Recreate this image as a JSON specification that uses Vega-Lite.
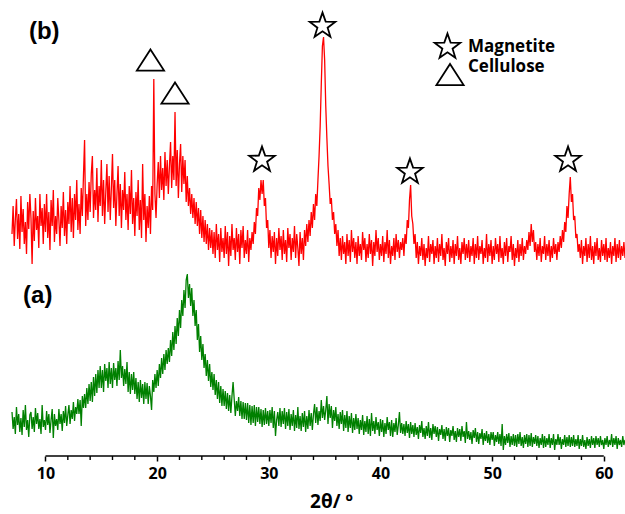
{
"$schema": "https://vega.github.io/schema/vega-lite/v6.json",
"width": 613, "height": 456,
"autosize": {"type": "none"},
"padding": {"left": 12, "top": 0, "right": 0, "bottom": 58},
"config": {"view": {"stroke": null}, "font": "Open Sans"},
"datasets": {
"xrd": [
{"x":7.0,"b":222,"a":44},{"x":7.1,"b":250,"a":27},{"x":7.2,"b":210,"a":39},{"x":7.3,"b":237,"a":22},{"x":7.4,"b":257,"a":49},{"x":7.5,"b":217,"a":31},{"x":7.6,"b":242,"a":42},{"x":7.7,"b":207,"a":24},{"x":7.8,"b":260,"a":38},{"x":7.9,"b":224,"a":21},
{"x":8.0,"b":247,"a":46},{"x":8.1,"b":212,"a":29},{"x":8.2,"b":234,"a":51},{"x":8.3,"b":202,"a":26},{"x":8.4,"b":254,"a":36},{"x":8.5,"b":227,"a":19},{"x":8.6,"b":262,"a":41},{"x":8.7,"b":238,"a":44},{"x":8.8,"b":192,"a":27},{"x":8.9,"b":245,"a":39},
{"x":9.0,"b":215,"a":24},{"x":9.1,"b":258,"a":48},{"x":9.2,"b":226,"a":32},{"x":9.3,"b":240,"a":43},{"x":9.4,"b":208,"a":27},{"x":9.5,"b":262,"a":37},{"x":9.6,"b":230,"a":22},{"x":9.7,"b":248,"a":51},{"x":9.8,"b":212,"a":29},{"x":9.9,"b":252,"a":36},
{"x":10.0,"b":224,"a":26},{"x":10.1,"b":262,"a":45},{"x":10.2,"b":218,"a":31},{"x":10.3,"b":244,"a":42},{"x":10.4,"b":206,"a":23},{"x":10.5,"b":256,"a":36},{"x":10.6,"b":230,"a":47},{"x":10.7,"b":266,"a":18},{"x":10.8,"b":214,"a":42},{"x":10.9,"b":240,"a":30},
{"x":11.0,"b":222,"a":37},{"x":11.1,"b":258,"a":26},{"x":11.2,"b":236,"a":47},{"x":11.3,"b":210,"a":32},{"x":11.4,"b":250,"a":42},{"x":11.5,"b":228,"a":25},{"x":11.6,"b":264,"a":45},{"x":11.7,"b":220,"a":33},{"x":11.8,"b":246,"a":50},{"x":11.9,"b":212,"a":30},
{"x":12.0,"b":254,"a":41},{"x":12.1,"b":232,"a":51},{"x":12.2,"b":270,"a":32},{"x":12.3,"b":224,"a":46},{"x":12.4,"b":258,"a":37},{"x":12.5,"b":218,"a":54},{"x":12.6,"b":262,"a":35},{"x":12.7,"b":236,"a":49},{"x":12.8,"b":276,"a":42},{"x":12.9,"b":226,"a":57},
{"x":13.0,"b":252,"a":42},{"x":13.1,"b":222,"a":56},{"x":13.2,"b":268,"a":30},{"x":13.3,"b":240,"a":60},{"x":13.4,"b":280,"a":48},{"x":13.5,"b":316,"a":62},{"x":13.6,"b":230,"a":48},{"x":13.7,"b":262,"a":68},{"x":13.8,"b":236,"a":52},{"x":13.9,"b":274,"a":72},
{"x":14.0,"b":244,"a":55},{"x":14.1,"b":282,"a":74},{"x":14.2,"b":300,"a":54},{"x":14.3,"b":238,"a":79},{"x":14.4,"b":266,"a":60},{"x":14.5,"b":246,"a":82},{"x":14.6,"b":288,"a":63},{"x":14.7,"b":234,"a":86},{"x":14.8,"b":270,"a":68},{"x":14.9,"b":250,"a":90},
{"x":15.0,"b":296,"a":68},{"x":15.1,"b":240,"a":86},{"x":15.2,"b":276,"a":64},{"x":15.3,"b":232,"a":92},{"x":15.4,"b":264,"a":75},{"x":15.5,"b":292,"a":88},{"x":15.6,"b":244,"a":68},{"x":15.7,"b":280,"a":94},{"x":15.8,"b":236,"a":72},{"x":15.9,"b":268,"a":88},
{"x":16.0,"b":302,"a":68},{"x":16.1,"b":248,"a":93},{"x":16.2,"b":276,"a":76},{"x":16.3,"b":230,"a":88},{"x":16.4,"b":262,"a":70},{"x":16.5,"b":290,"a":95},{"x":16.6,"b":240,"a":76},{"x":16.7,"b":272,"a":106},{"x":16.8,"b":228,"a":78},{"x":16.9,"b":266,"a":90},
{"x":17.0,"b":246,"a":70},{"x":17.1,"b":284,"a":87},{"x":17.2,"b":236,"a":72},{"x":17.3,"b":262,"a":94},{"x":17.4,"b":226,"a":64},{"x":17.5,"b":270,"a":84},{"x":17.6,"b":242,"a":62},{"x":17.7,"b":286,"a":82},{"x":17.8,"b":232,"a":66},{"x":17.9,"b":258,"a":84},
{"x":18.0,"b":220,"a":62},{"x":18.1,"b":264,"a":78},{"x":18.2,"b":240,"a":57},{"x":18.3,"b":276,"a":74},{"x":18.4,"b":226,"a":54},{"x":18.5,"b":256,"a":76},{"x":18.6,"b":218,"a":58},{"x":18.7,"b":292,"a":72},{"x":18.8,"b":236,"a":52},{"x":18.9,"b":262,"a":74},
{"x":19.0,"b":214,"a":57},{"x":19.1,"b":250,"a":73},{"x":19.2,"b":228,"a":52},{"x":19.3,"b":260,"a":70},{"x":19.4,"b":222,"a":60},{"x":19.5,"b":270,"a":46},{"x":19.6,"b":246,"a":76},{"x":19.7,"b":377,"a":64},{"x":19.8,"b":262,"a":82},{"x":19.9,"b":238,"a":68},
{"x":20.0,"b":272,"a":86},{"x":20.1,"b":294,"a":70},{"x":20.2,"b":258,"a":92},{"x":20.3,"b":300,"a":78},{"x":20.4,"b":266,"a":98},{"x":20.5,"b":288,"a":82},{"x":20.6,"b":256,"a":102},{"x":20.7,"b":304,"a":86},{"x":20.8,"b":270,"a":106},{"x":20.9,"b":296,"a":92},
{"x":21.0,"b":262,"a":108},{"x":21.1,"b":290,"a":94},{"x":21.2,"b":314,"a":116},{"x":21.3,"b":268,"a":100},{"x":21.4,"b":300,"a":124},{"x":21.5,"b":276,"a":106},{"x":21.6,"b":344,"a":130},{"x":21.7,"b":270,"a":112},{"x":21.8,"b":306,"a":138},{"x":21.9,"b":258,"a":120},
{"x":22.0,"b":292,"a":146},{"x":22.1,"b":312,"a":128},{"x":22.2,"b":264,"a":156},{"x":22.3,"b":300,"a":140},{"x":22.4,"b":272,"a":166},{"x":22.5,"b":296,"a":148},{"x":22.6,"b":254,"a":176},{"x":22.7,"b":280,"a":182},{"x":22.8,"b":250,"a":158},{"x":22.9,"b":268,"a":172},
{"x":23.0,"b":242,"a":150},{"x":23.1,"b":262,"a":168},{"x":23.2,"b":238,"a":140},{"x":23.3,"b":258,"a":156},{"x":23.4,"b":232,"a":130},{"x":23.5,"b":254,"a":146},{"x":23.6,"b":230,"a":116},{"x":23.7,"b":248,"a":132},{"x":23.8,"b":222,"a":104},{"x":23.9,"b":246,"a":120},
{"x":24.0,"b":218,"a":96},{"x":24.1,"b":240,"a":112},{"x":24.2,"b":214,"a":88},{"x":24.3,"b":236,"a":102},{"x":24.4,"b":212,"a":80},{"x":24.5,"b":232,"a":96},{"x":24.6,"b":206,"a":75},{"x":24.7,"b":228,"a":92},{"x":24.8,"b":208,"a":69},{"x":24.9,"b":226,"a":84},
{"x":25.0,"b":202,"a":66},{"x":25.1,"b":224,"a":82},{"x":25.2,"b":198,"a":61},{"x":25.3,"b":232,"a":76},{"x":25.4,"b":206,"a":57},{"x":25.5,"b":222,"a":74},{"x":25.6,"b":194,"a":53},{"x":25.7,"b":228,"a":70},{"x":25.8,"b":204,"a":50},{"x":25.9,"b":218,"a":67},
{"x":26.0,"b":198,"a":50},{"x":26.1,"b":230,"a":65},{"x":26.2,"b":202,"a":47},{"x":26.3,"b":224,"a":63},{"x":26.4,"b":190,"a":45},{"x":26.5,"b":220,"a":61},{"x":26.6,"b":200,"a":43},{"x":26.7,"b":232,"a":60},{"x":26.8,"b":206,"a":74},{"x":26.9,"b":218,"a":57},
{"x":27.0,"b":196,"a":40},{"x":27.1,"b":228,"a":55},{"x":27.2,"b":204,"a":45},{"x":27.3,"b":222,"a":59},{"x":27.4,"b":192,"a":40},{"x":27.5,"b":226,"a":55},{"x":27.6,"b":208,"a":37},{"x":27.7,"b":230,"a":54},{"x":27.8,"b":198,"a":37},{"x":27.9,"b":216,"a":53},
{"x":28.0,"b":202,"a":36},{"x":28.1,"b":226,"a":53},{"x":28.2,"b":194,"a":33},{"x":28.3,"b":218,"a":51},{"x":28.4,"b":206,"a":31},{"x":28.5,"b":224,"a":50},{"x":28.6,"b":212,"a":33},{"x":28.7,"b":234,"a":51},{"x":28.8,"b":222,"a":30},{"x":28.9,"b":248,"a":49},
{"x":29.0,"b":240,"a":34},{"x":29.1,"b":268,"a":49},{"x":29.2,"b":256,"a":32},{"x":29.3,"b":276,"a":47},{"x":29.4,"b":262,"a":29},{"x":29.5,"b":276,"a":46},{"x":29.6,"b":250,"a":31},{"x":29.7,"b":258,"a":48},{"x":29.8,"b":228,"a":32},{"x":29.9,"b":236,"a":45},
{"x":30.0,"b":208,"a":30},{"x":30.1,"b":226,"a":46},{"x":30.2,"b":198,"a":33},{"x":30.3,"b":220,"a":49},{"x":30.4,"b":204,"a":28},{"x":30.5,"b":224,"a":45},{"x":30.6,"b":192,"a":20},{"x":30.7,"b":218,"a":36},{"x":30.8,"b":200,"a":44},{"x":30.9,"b":228,"a":30},
{"x":31.0,"b":206,"a":48},{"x":31.1,"b":220,"a":29},{"x":31.2,"b":196,"a":45},{"x":31.3,"b":226,"a":32},{"x":31.4,"b":202,"a":48},{"x":31.5,"b":216,"a":27},{"x":31.6,"b":194,"a":44},{"x":31.7,"b":228,"a":30},{"x":31.8,"b":208,"a":47},{"x":31.9,"b":222,"a":26},
{"x":32.0,"b":196,"a":42},{"x":32.1,"b":218,"a":30},{"x":32.2,"b":204,"a":46},{"x":32.3,"b":230,"a":25},{"x":32.4,"b":198,"a":41},{"x":32.5,"b":222,"a":28},{"x":32.6,"b":208,"a":49},{"x":32.7,"b":190,"a":27},{"x":32.8,"b":224,"a":40},{"x":32.9,"b":202,"a":25},
{"x":33.0,"b":218,"a":43},{"x":33.1,"b":196,"a":29},{"x":33.2,"b":226,"a":45},{"x":33.3,"b":210,"a":24},{"x":33.4,"b":232,"a":40},{"x":33.5,"b":214,"a":27},{"x":33.6,"b":236,"a":46},{"x":33.7,"b":220,"a":30},{"x":33.8,"b":244,"a":43},{"x":33.9,"b":228,"a":26},
{"x":34.0,"b":252,"a":42},{"x":34.1,"b":236,"a":52},{"x":34.2,"b":262,"a":33},{"x":34.3,"b":250,"a":49},{"x":34.4,"b":276,"a":31},{"x":34.5,"b":300,"a":45},{"x":34.6,"b":330,"a":35},{"x":34.7,"b":372,"a":56},{"x":34.8,"b":410,"a":38},{"x":34.9,"b":419,"a":50},
{"x":35.0,"b":396,"a":36},{"x":35.1,"b":350,"a":46},{"x":35.2,"b":318,"a":60},{"x":35.3,"b":290,"a":32},{"x":35.4,"b":272,"a":52},{"x":35.5,"b":252,"a":38},{"x":35.6,"b":258,"a":50},{"x":35.7,"b":236,"a":28},{"x":35.8,"b":244,"a":46},{"x":35.9,"b":222,"a":35},
{"x":36.0,"b":232,"a":49},{"x":36.1,"b":210,"a":30},{"x":36.2,"b":226,"a":42},{"x":36.3,"b":200,"a":27},{"x":36.4,"b":218,"a":44},{"x":36.5,"b":196,"a":32},{"x":36.6,"b":220,"a":46},{"x":36.7,"b":202,"a":25},{"x":36.8,"b":214,"a":41},{"x":36.9,"b":192,"a":28},
{"x":37.0,"b":222,"a":45},{"x":37.1,"b":200,"a":24},{"x":37.2,"b":216,"a":40},{"x":37.3,"b":194,"a":28},{"x":37.4,"b":226,"a":43},{"x":37.5,"b":204,"a":23},{"x":37.6,"b":218,"a":38},{"x":37.7,"b":198,"a":26},{"x":37.8,"b":214,"a":42},{"x":37.9,"b":192,"a":27},
{"x":38.0,"b":220,"a":38},{"x":38.1,"b":200,"a":22},{"x":38.2,"b":212,"a":36},{"x":38.3,"b":196,"a":26},{"x":38.4,"b":224,"a":41},{"x":38.5,"b":206,"a":21},{"x":38.6,"b":218,"a":35},{"x":38.7,"b":194,"a":24},{"x":38.8,"b":212,"a":40},{"x":38.9,"b":198,"a":22},
{"x":39.0,"b":222,"a":37},{"x":39.1,"b":202,"a":20},{"x":39.2,"b":216,"a":43},{"x":39.3,"b":190,"a":25},{"x":39.4,"b":214,"a":35},{"x":39.5,"b":200,"a":22},{"x":39.6,"b":226,"a":39},{"x":39.7,"b":204,"a":26},{"x":39.8,"b":218,"a":34},{"x":39.9,"b":196,"a":20},
{"x":40.0,"b":212,"a":37},{"x":40.1,"b":200,"a":24},{"x":40.2,"b":220,"a":36},{"x":40.3,"b":194,"a":19},{"x":40.4,"b":214,"a":33},{"x":40.5,"b":202,"a":22},{"x":40.6,"b":226,"a":39},{"x":40.7,"b":198,"a":26},{"x":40.8,"b":216,"a":34},{"x":40.9,"b":192,"a":20},
{"x":41.0,"b":210,"a":36},{"x":41.1,"b":200,"a":19},{"x":41.2,"b":218,"a":33},{"x":41.3,"b":196,"a":24},{"x":41.4,"b":222,"a":38},{"x":41.5,"b":204,"a":21},{"x":41.6,"b":216,"a":31},{"x":41.7,"b":198,"a":44},{"x":41.8,"b":214,"a":23},{"x":41.9,"b":206,"a":33},
{"x":42.0,"b":218,"a":22},{"x":42.1,"b":200,"a":32},{"x":42.2,"b":222,"a":20},{"x":42.3,"b":212,"a":35},{"x":42.4,"b":236,"a":23},{"x":42.5,"b":228,"a":32},{"x":42.6,"b":256,"a":18},{"x":42.7,"b":271,"a":34},{"x":42.8,"b":240,"a":22},{"x":42.9,"b":232,"a":31},
{"x":43.0,"b":212,"a":19},{"x":43.1,"b":222,"a":33},{"x":43.2,"b":198,"a":21},{"x":43.3,"b":214,"a":29},{"x":43.4,"b":192,"a":17},{"x":43.5,"b":210,"a":31},{"x":43.6,"b":200,"a":23},{"x":43.7,"b":218,"a":35},{"x":43.8,"b":196,"a":19},{"x":43.9,"b":212,"a":28},
{"x":44.0,"b":190,"a":17},{"x":44.1,"b":208,"a":30},{"x":44.2,"b":198,"a":20},{"x":44.3,"b":220,"a":34},{"x":44.4,"b":194,"a":18},{"x":44.5,"b":212,"a":28},{"x":44.6,"b":202,"a":16},{"x":44.7,"b":216,"a":32},{"x":44.8,"b":192,"a":22},{"x":44.9,"b":210,"a":30},
{"x":45.0,"b":198,"a":19},{"x":45.1,"b":218,"a":29},{"x":45.2,"b":194,"a":15},{"x":45.3,"b":212,"a":27},{"x":45.4,"b":200,"a":21},{"x":45.5,"b":222,"a":31},{"x":45.6,"b":196,"a":17},{"x":45.7,"b":208,"a":27},{"x":45.8,"b":190,"a":15},{"x":45.9,"b":214,"a":29},
{"x":46.0,"b":202,"a":20},{"x":46.1,"b":218,"a":28},{"x":46.2,"b":194,"a":14},{"x":46.3,"b":210,"a":26},{"x":46.4,"b":198,"a":20},{"x":46.5,"b":216,"a":30},{"x":46.6,"b":192,"a":16},{"x":46.7,"b":212,"a":25},{"x":46.8,"b":200,"a":14},{"x":46.9,"b":220,"a":28},
{"x":47.0,"b":196,"a":19},{"x":47.1,"b":208,"a":27},{"x":47.2,"b":192,"a":15},{"x":47.3,"b":214,"a":30},{"x":47.4,"b":202,"a":19},{"x":47.5,"b":218,"a":25},{"x":47.6,"b":196,"a":13},{"x":47.7,"b":212,"a":34},{"x":47.8,"b":198,"a":17},{"x":47.9,"b":216,"a":25},
{"x":48.0,"b":194,"a":16},{"x":48.1,"b":210,"a":24},{"x":48.2,"b":200,"a":12},{"x":48.3,"b":218,"a":26},{"x":48.4,"b":192,"a":18},{"x":48.5,"b":212,"a":28},{"x":48.6,"b":198,"a":14},{"x":48.7,"b":220,"a":24},{"x":48.8,"b":196,"a":12},{"x":48.9,"b":210,"a":23},
{"x":49.0,"b":202,"a":17},{"x":49.1,"b":216,"a":27},{"x":49.2,"b":192,"a":11},{"x":49.3,"b":208,"a":23},{"x":49.4,"b":198,"a":15},{"x":49.5,"b":222,"a":25},{"x":49.6,"b":194,"a":13},{"x":49.7,"b":212,"a":22},{"x":49.8,"b":200,"a":11},{"x":49.9,"b":216,"a":24},
{"x":50.0,"b":192,"a":16},{"x":50.1,"b":210,"a":24},{"x":50.2,"b":196,"a":10},{"x":50.3,"b":218,"a":21},{"x":50.4,"b":202,"a":14},{"x":50.5,"b":212,"a":24},{"x":50.6,"b":194,"a":12},{"x":50.7,"b":220,"a":22},{"x":50.8,"b":198,"a":10},{"x":50.9,"b":208,"a":32},
{"x":51.0,"b":192,"a":6},{"x":51.1,"b":214,"a":20},{"x":51.2,"b":200,"a":11},{"x":51.3,"b":218,"a":22},{"x":51.4,"b":194,"a":13},{"x":51.5,"b":210,"a":23},{"x":51.6,"b":204,"a":9},{"x":51.7,"b":220,"a":20},{"x":51.8,"b":196,"a":11},{"x":51.9,"b":212,"a":22},
{"x":52.0,"b":190,"a":10},{"x":52.1,"b":208,"a":21},{"x":52.2,"b":198,"a":9},{"x":52.3,"b":216,"a":22},{"x":52.4,"b":194,"a":12},{"x":52.5,"b":212,"a":24},{"x":52.6,"b":200,"a":10},{"x":52.7,"b":218,"a":19},{"x":52.8,"b":196,"a":8},{"x":52.9,"b":210,"a":21},
{"x":53.0,"b":202,"a":12},{"x":53.1,"b":216,"a":22},{"x":53.2,"b":206,"a":9},{"x":53.3,"b":224,"a":21},{"x":53.4,"b":210,"a":10},{"x":53.5,"b":232,"a":23},{"x":53.6,"b":214,"a":9},{"x":53.7,"b":226,"a":19},{"x":53.8,"b":204,"a":12},{"x":53.9,"b":214,"a":21},
{"x":54.0,"b":196,"a":10},{"x":54.1,"b":212,"a":20},{"x":54.2,"b":200,"a":8},{"x":54.3,"b":218,"a":18},{"x":54.4,"b":194,"a":11},{"x":54.5,"b":210,"a":22},{"x":54.6,"b":202,"a":8},{"x":54.7,"b":220,"a":20},{"x":54.8,"b":196,"a":9},{"x":54.9,"b":212,"a":18},
{"x":55.0,"b":200,"a":11},{"x":55.1,"b":216,"a":22},{"x":55.2,"b":194,"a":8},{"x":55.3,"b":210,"a":18},{"x":55.4,"b":198,"a":11},{"x":55.5,"b":218,"a":22},{"x":55.6,"b":202,"a":6},{"x":55.7,"b":212,"a":17},{"x":55.8,"b":196,"a":11},{"x":55.9,"b":214,"a":22},
{"x":56.0,"b":204,"a":11},{"x":56.1,"b":220,"a":19},{"x":56.2,"b":208,"a":7},{"x":56.3,"b":226,"a":17},{"x":56.4,"b":214,"a":11},{"x":56.5,"b":234,"a":21},{"x":56.6,"b":224,"a":9},{"x":56.7,"b":250,"a":19},{"x":56.8,"b":238,"a":10},{"x":56.9,"b":262,"a":21},
{"x":57.0,"b":279,"a":9},{"x":57.1,"b":254,"a":19},{"x":57.2,"b":262,"a":10},{"x":57.3,"b":236,"a":21},{"x":57.4,"b":240,"a":9},{"x":57.5,"b":218,"a":17},{"x":57.6,"b":222,"a":10},{"x":57.7,"b":204,"a":21},{"x":57.8,"b":212,"a":7},{"x":57.9,"b":198,"a":17},
{"x":58.0,"b":216,"a":10},{"x":58.1,"b":192,"a":21},{"x":58.2,"b":210,"a":9},{"x":58.3,"b":200,"a":16},{"x":58.4,"b":218,"a":7},{"x":58.5,"b":194,"a":19},{"x":58.6,"b":212,"a":10},{"x":58.7,"b":198,"a":17},{"x":58.8,"b":220,"a":8},{"x":58.9,"b":196,"a":20},
{"x":59.0,"b":210,"a":11},{"x":59.1,"b":192,"a":18},{"x":59.2,"b":214,"a":8},{"x":59.3,"b":200,"a":20},{"x":59.4,"b":218,"a":11},{"x":59.5,"b":196,"a":18},{"x":59.6,"b":208,"a":9},{"x":59.7,"b":194,"a":20},{"x":59.8,"b":216,"a":11},{"x":59.9,"b":200,"a":16},
{"x":60.0,"b":212,"a":7},{"x":60.1,"b":196,"a":18},{"x":60.2,"b":218,"a":11},{"x":60.3,"b":194,"a":20},{"x":60.4,"b":208,"a":9},{"x":60.5,"b":198,"a":16},{"x":60.6,"b":214,"a":11},{"x":60.7,"b":192,"a":22},{"x":60.8,"b":210,"a":9},{"x":60.9,"b":200,"a":18},
{"x":61.0,"b":218,"a":11},{"x":61.1,"b":194,"a":20},{"x":61.2,"b":212,"a":7},{"x":61.3,"b":198,"a":18},{"x":61.4,"b":216,"a":11},{"x":61.5,"b":196,"a":16},{"x":61.6,"b":210,"a":9},{"x":61.7,"b":200,"a":20},{"x":61.8,"b":214,"a":11},{"x":61.9,"b":198,"a":16}
],
"symbols": [
{"x":19.40,"y":396,"kind":"Cellulose"},
{"x":21.60,"y":363,"kind":"Cellulose"},
{"x":29.39,"y":296,"kind":"Magnetite"},
{"x":34.81,"y":430,"kind":"Magnetite"},
{"x":42.64,"y":284,"kind":"Magnetite"},
{"x":56.80,"y":296,"kind":"Magnetite"},
{"x":46.00,"y":409,"kind":"Magnetite"},
{"x":46.23,"y":381.5,"kind":"Cellulose"}
],
"legendText": [
{"x":47.84,"y":404,"label":"Magnetite"},
{"x":47.84,"y":384,"label":"Cellulose"}
],
"panelText": [
{"x":8.52,"y":417,"label":"(b)"},
{"x":7.99,"y":153,"label":"(a)"}
],
"axisLine": [{"x":10,"x2":60,"y":0}],
"minorTicks": [
{"x":12,"y":0},{"x":14,"y":0},{"x":16,"y":0},{"x":18,"y":0},
{"x":22,"y":0},{"x":24,"y":0},{"x":26,"y":0},{"x":28,"y":0},
{"x":32,"y":0},{"x":34,"y":0},{"x":36,"y":0},{"x":38,"y":0},
{"x":42,"y":0},{"x":44,"y":0},{"x":46,"y":0},{"x":48,"y":0},
{"x":52,"y":0},{"x":54,"y":0},{"x":56,"y":0},{"x":58,"y":0}
]
},
"layer": [
{
"data": {"name": "xrd"},
"mark": {"type": "line", "color": "#ff0000", "strokeWidth": 1.3},
"encoding": {
"x": {"field": "x", "type": "quantitative",
"scale": {"domain": [7, 61.9], "nice": false, "zero": false},
"axis": {
"values": [10,20,30,40,50,60],
"labelOverlap": false, "labelFlush": false, "labelBound": false,
"domain": false, "grid": false,
"tickSize": 5, "tickWidth": 1.5, "tickColor": "#000000",
"labelFont": "Open Sans", "labelFontWeight": "bold", "labelFontSize": 16, "labelColor": "#000000", "labelPadding": 4,
"title": "2θ/ º", "titleFont": "Open Sans", "titleFontWeight": "bold", "titleFontSize": 19, "titleColor": "#000000",
"titleX": 319, "titleY": 51, "titleAlign": "center", "titleBaseline": "alphabetic"
}},
"y": {"field": "b", "type": "quantitative", "scale": {"domain": [0, 456], "nice": false}, "axis": null}
}
},
{
"data": {"name": "xrd"},
"mark": {"type": "line", "color": "#008000", "strokeWidth": 1.3},
"encoding": {
"x": {"field": "x", "type": "quantitative"},
"y": {"field": "a", "type": "quantitative"}
}
},
{
"data": {"name": "axisLine"},
"mark": {"type": "rule", "color": "#000000", "strokeWidth": 1.5},
"encoding": {
"x": {"field": "x", "type": "quantitative"},
"x2": {"field": "x2"},
"y": {"field": "y", "type": "quantitative"}
}
},
{
"data": {"name": "minorTicks"},
"mark": {"type": "tick", "orient": "vertical", "size": 4, "thickness": 1.4, "color": "#000000", "opacity": 1, "yOffset": 2},
"encoding": {
"x": {"field": "x", "type": "quantitative"},
"y": {"field": "y", "type": "quantitative"}
}
},
{
"data": {"name": "symbols"},
"mark": {"type": "point", "filled": false, "stroke": "#000000", "strokeWidth": 1.8, "opacity": 1},
"encoding": {
"x": {"field": "x", "type": "quantitative"},
"y": {"field": "y", "type": "quantitative"},
"shape": {"field": "kind", "type": "nominal", "legend": null,
"scale": {"domain": ["Magnetite", "Cellulose"],
"range": ["M0,-1L0.235,-0.324L0.951,-0.309L0.380,0.124L0.588,0.809L0,0.4L-0.588,0.809L-0.380,0.124L-0.951,-0.309L-0.235,-0.324Z", "M0,-0.78L1,0.78L-1,0.78Z"]}},
"size": {"field": "kind", "type": "nominal", "legend": null,
"scale": {"domain": ["Magnetite", "Cellulose"], "range": [720, 740]}}
}
},
{
"data": {"name": "legendText"},
"mark": {"type": "text", "align": "left", "baseline": "alphabetic", "font": "Open Sans", "fontWeight": "bold", "fontSize": 17, "color": "#000000"},
"encoding": {
"x": {"field": "x", "type": "quantitative"},
"y": {"field": "y", "type": "quantitative"},
"text": {"field": "label"}
}
},
{
"data": {"name": "panelText"},
"mark": {"type": "text", "align": "left", "baseline": "alphabetic", "font": "Liberation Sans", "fontWeight": "bold", "fontSize": 24, "color": "#000000"},
"encoding": {
"x": {"field": "x", "type": "quantitative"},
"y": {"field": "y", "type": "quantitative"},
"text": {"field": "label"}
}
}
]
}
